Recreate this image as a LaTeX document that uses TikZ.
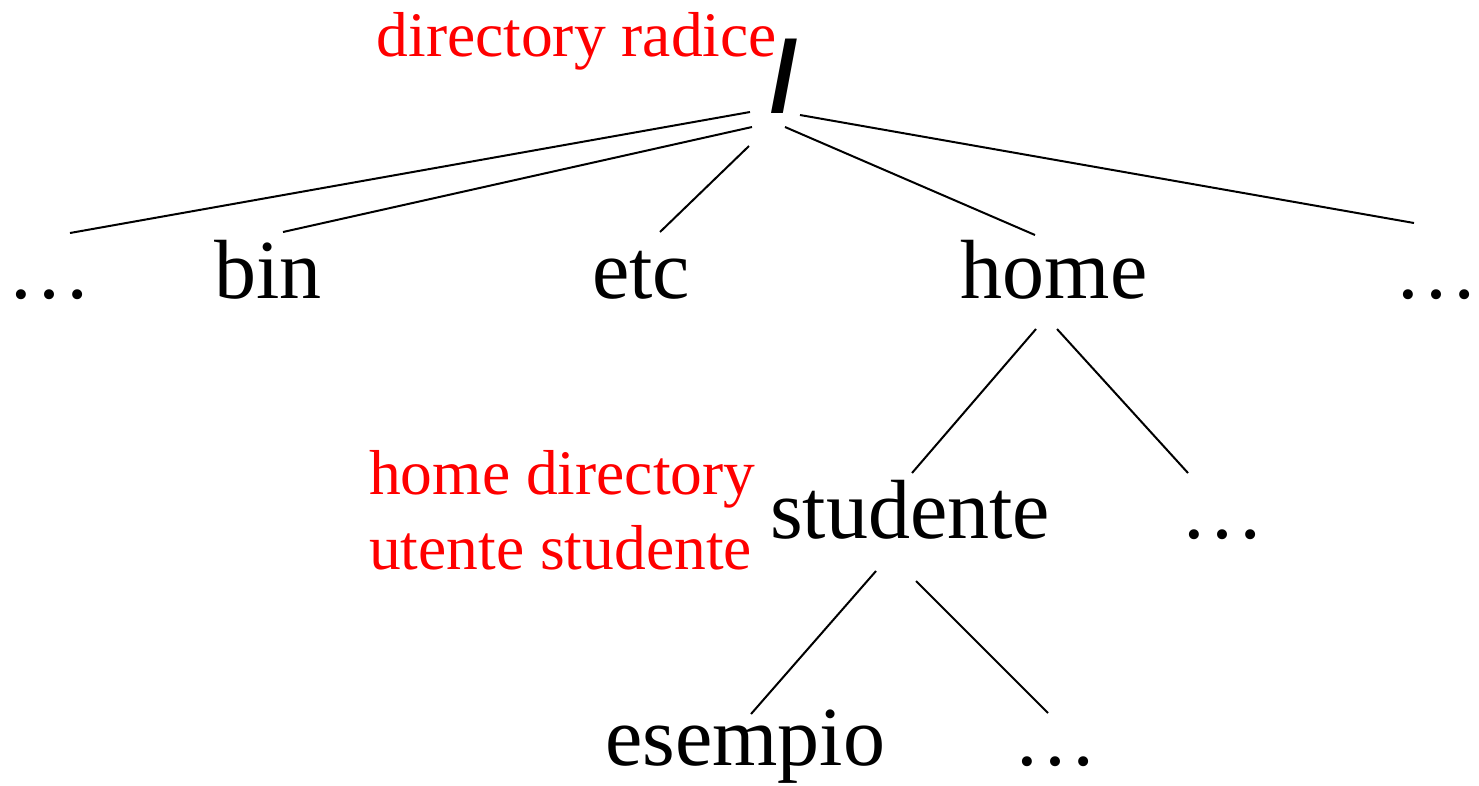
\documentclass[tikz,border=0pt]{standalone}
\usepackage{fontspec}
\setmainfont{Liberation Serif}
\newfontfamily\slashfont{Liberation Sans}
\usetikzlibrary{calc}
\begin{document}
\begin{tikzpicture}[x=1pt,y=-1pt,
  dir/.style={anchor=base,inner sep=0pt,font=\fontsize{84}{84}\selectfont},
  lbl/.style={inner sep=0pt,text=red,font=\fontsize{63.5}{63.5}\selectfont},
  edge/.style={line width=2pt}]
\useasboundingbox (0,0) rectangle (1479,785);
\node[dir,font=\fontsize{100}{100}\slashfont\bfseries] (root) at (784,111) {/};
\node[dir] (dl) at (50,298) {…};
\node[dir] (bin) at (268,298) {bin};
\node[dir] (etc) at (641,298) {etc};
\node[dir] (home) at (1054,298) {home};
\node[dir] (dr) at (1436,298) {…};
\node[dir] (stud) at (910,538) {studente};
\node[dir] (dm) at (1222,538) {…};
\node[dir] (esem) at (745,765) {esempio};
\node[dir] (db) at (1055,765) {…};
\node[lbl,anchor=base east] (radice) at (777,56) {directory radice};
\node[lbl,anchor=base west] (hd1) at (369,494) {home directory};
\node[lbl,anchor=base west] (hd2) at (369,569) {utente studente};
\draw[edge] ($(root.base)+(-34,1)$) -- ($(dl.base)+(20,-65)$);
\draw[edge] ($(root.base)+(-32,16)$) -- ($(bin.base)+(15,-66)$);
\draw[edge] ($(root.base)+(-35,35)$) -- ($(etc.base)+(19,-66)$);
\draw[edge] ($(root.base)+(1,16)$) -- ($(home.base)+(-19,-63)$);
\draw[edge] ($(root.base)+(16,4)$) -- ($(dr.base)+(-22,-75)$);
\draw[edge] ($(home.base)+(-18,31)$) -- ($(stud.base)+(2,-65)$);
\draw[edge] ($(home.base)+(3,31)$) -- ($(dm.base)+(-34,-65)$);
\draw[edge] ($(stud.base)+(-34,33)$) -- ($(esem.base)+(6,-51)$);
\draw[edge] ($(stud.base)+(6,43)$) -- ($(db.base)+(-7,-52)$);
\end{tikzpicture}
\end{document}
